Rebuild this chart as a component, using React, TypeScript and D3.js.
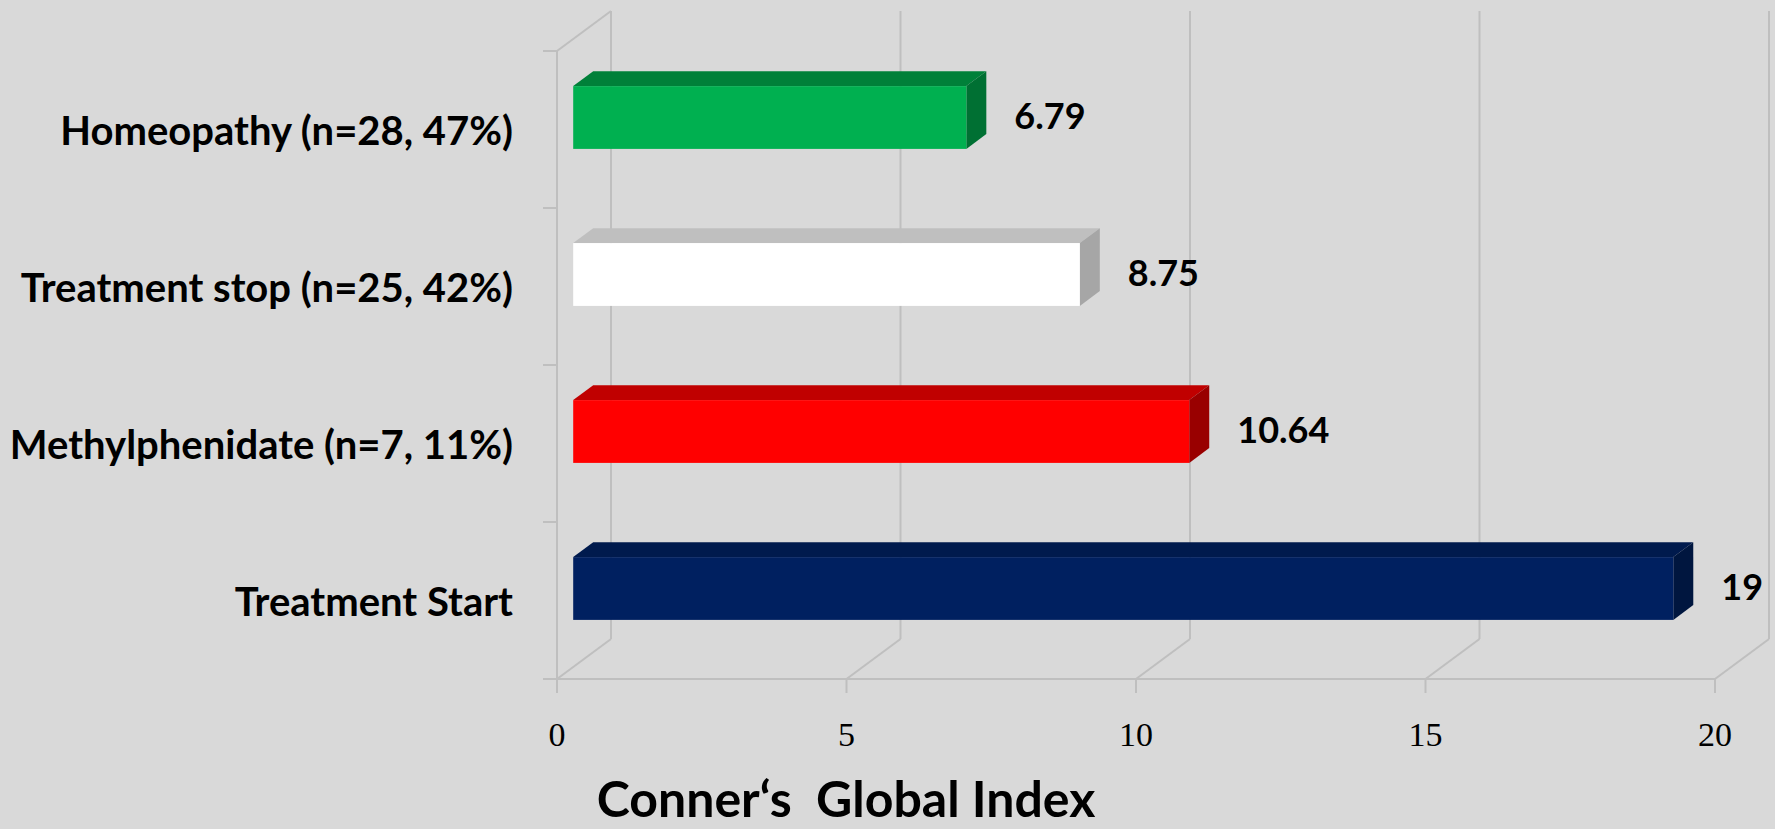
import React from "react";
import * as d3 from "d3";

const categories = [
  "Homeopathy (n=28, 47%)",
  "Treatment stop (n=25, 42%)",
  "Methylphenidate (n=7, 11%)",
  "Treatment Start",
];
const values = [6.79, 8.75, 10.64, 19];
const valueLabels = ["6.79", "8.75", "10.64", "19"];
const frontColors = ["#00b050", "#ffffff", "#ff0000", "#002060"];
const topColors = ["#008039", "#bfbfbf", "#c00000", "#001a4d"];
const sideColors = ["#007033", "#a6a6a6", "#990000", "#00163f"];
const xTicks = [0, 5, 10, 15, 20];
const axisTitle = "Conner\u2018s\u00a0 Global Index";

const W = 1775;
const H = 829;
const grid = "#bfbfbf";
const font = "Lato, 'Open Sans', sans-serif";

export default function App() {
  const x = d3.scaleLinear().domain([0, 20]).range([557, 1715]);
  const y = d3.scaleBand<string>().domain(categories).range([51, 679]).padding(0);
  const floorY = 679;
  const topY = 11;
  const DX = 54;
  const DY = -40;
  const fDX = DX * 0.3;
  const fDY = DY * 0.3;
  const bDX = DX * 0.37;
  const bDY = DY * 0.37;
  const barH = y.bandwidth() * 0.4;

  const boundaries = [...categories.map((c) => y(c) as number), 679];

  return (
    <svg
      width={W}
      height={H}
      style={{ position: "absolute", left: 0, top: 0, background: "#d9d9d9" }}
    >
      <rect x={0} y={0} width={W} height={H} fill="#d9d9d9" />
      {xTicks.map((t) => (
        <g key={"g" + t}>
          <line x1={x(t) + DX} x2={x(t) + DX} y1={topY} y2={floorY + DY} stroke={grid} strokeWidth={2} />
          <line x1={x(t)} x2={x(t) + DX} y1={floorY} y2={floorY + DY} stroke={grid} strokeWidth={2} />
          <line x1={x(t)} x2={x(t)} y1={floorY} y2={floorY + 14} stroke={grid} strokeWidth={2} />
        </g>
      ))}
      <line x1={x(0)} x2={x(20)} y1={floorY} y2={floorY} stroke={grid} strokeWidth={2} />
      <line x1={x(0)} x2={x(0)} y1={51} y2={floorY} stroke={grid} strokeWidth={2} />
      <line x1={x(0)} x2={x(0) + DX} y1={51} y2={51 + DY} stroke={grid} strokeWidth={2} />
      {boundaries.map((b, i) => (
        <line key={"t" + i} x1={x(0) - 14} x2={x(0)} y1={b} y2={b} stroke={grid} strokeWidth={2} />
      ))}
      {categories.map((c, i) => {
        const cy = (y(c) as number) + y.bandwidth() / 2;
        const x0 = x(0) + fDX;
        const x1 = x(values[i]) + fDX;
        const y0 = cy - barH / 2 + fDY;
        const y1 = cy + barH / 2 + fDY;
        const top = `M${x0},${y0}L${x1},${y0}L${x1 + bDX},${y0 + bDY}L${x0 + bDX},${y0 + bDY}Z`;
        const side = `M${x1},${y0}L${x1 + bDX},${y0 + bDY}L${x1 + bDX},${y1 + bDY}L${x1},${y1}Z`;
        return (
          <g key={c}>
            <path d={top} fill={topColors[i]} />
            <path d={side} fill={sideColors[i]} />
            <rect x={x0} y={y0} width={x1 - x0} height={y1 - y0} fill={frontColors[i]} />
            <text
              x={x1 + 48}
              y={cy + fDY - 3}
              dominantBaseline="central"
              fontFamily={font}
              fontWeight={700}
              fontSize={36}
              fill="#000"
            >
              {valueLabels[i]}
            </text>
            <text
              x={513}
              y={cy + fDY + 12}
              dominantBaseline="central"
              textAnchor="end"
              fontFamily={font}
              fontWeight={700}
              fontSize={40}
              fill="#000"
            >
              {c}
            </text>
          </g>
        );
      })}
      {xTicks.map((t) => (
        <text
          key={"l" + t}
          x={x(t)}
          y={746}
          textAnchor="middle"
          fontFamily="'Liberation Serif', serif"
          fontSize={34}
          fill="#000"
        >
          {t}
        </text>
      ))}
      <text
        x={846}
        y={817}
        textAnchor="middle"
        fontFamily={font}
        fontWeight={700}
        fontSize={50}
        fill="#000"
        style={{ whiteSpace: "pre" }}
      >
        {axisTitle}
      </text>
    </svg>
  );
}
